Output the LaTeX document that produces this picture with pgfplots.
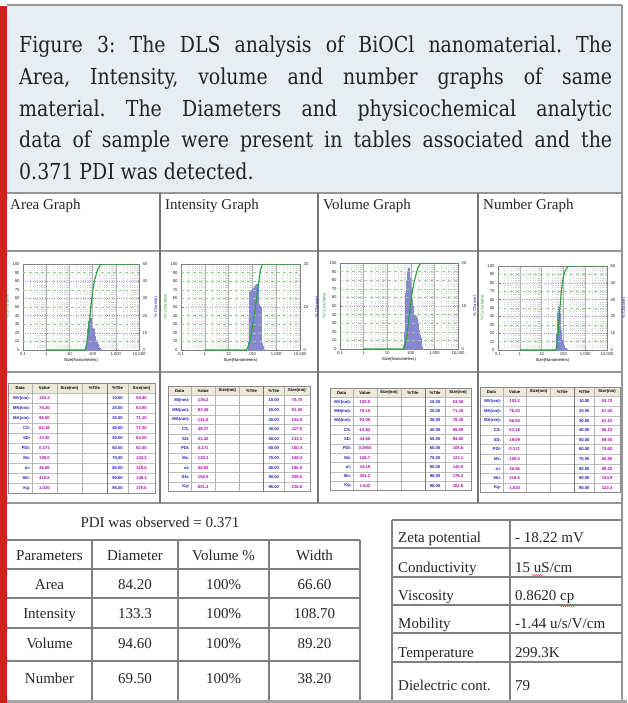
\documentclass[border=0pt]{standalone}
\usepackage{fontspec}
\setmainfont{Liberation Serif}
\setsansfont{Liberation Sans}
\newfontfamily\capfont[FakeStretch=0.86]{DejaVu Serif}
\usepackage{pgfplots}
\pgfplotsset{compat=1.18}
\usetikzlibrary{decorations.pathmorphing}

\definecolor{capbg}{RGB}{232,237,242}
\definecolor{captext}{RGB}{35,35,35}
\definecolor{redbar}{RGB}{210,32,28}
\definecolor{frame}{RGB}{150,150,150}
\definecolor{cumgreen}{RGB}{40,160,60}
\definecolor{gridgreen}{RGB}{150,210,150}
\definecolor{gridblue}{RGB}{150,150,230}
\definecolor{hist}{RGB}{165,165,228}
\definecolor{histline}{RGB}{135,135,210}
\definecolor{tblue}{RGB}{30,30,190}
\definecolor{tmag}{RGB}{185,0,185}
\definecolor{hdr}{RGB}{236,233,216}

\newcommand\tf{\sffamily\fontsize{4.2}{4.6}\selectfont}
\newcommand\tbf{\fontsize{15}{18}\selectfont}

\pgfplotsset{
 dlsbase/.style={scale only axis, xmin=0.1, xmax=10000, ymin=0, anchor=south west,
   /pgf/number format/assume math mode=true,
   tick label style={font=\tf, text=black!85}, major tick length=1.5pt, minor tick length=0pt,
   tick style={black!60, line width=0.3pt}, axis line style={black!50, line width=0.4pt}},
 dlshist/.style={dlsbase, xtick={0.1,1,10,100,1000,10000}, xticklabels={0.1,1,10,100,{1,000},{10,000}},
   minor xtick={0.2,0.3,0.4,0.5,0.6,0.7,0.8,0.9,2,3,4,5,6,7,8,9,20,30,40,50,60,70,80,90,200,300,400,500,600,700,800,900,2000,3000,4000,5000,6000,7000,8000,9000},
   xmajorgrids, xminorgrids, major x grid style={black!30, line width=0.3pt},
   minor x grid style={black!18, dotted, line width=0.3pt},
   ymajorgrids, major y grid style={gridblue, dotted, line width=0.5pt},
   ytick pos=right, yticklabel pos=right, xtick pos=bottom, ylabel near ticks,
   ylabel style={font=\tf, text=tblue}, xlabel={Size(Nanometers)},
   xlabel style={font=\tf, yshift=4pt}, xticklabel style={yshift=1pt}},
 dlscum/.style={dlsbase, ymax=100, axis x line=none, axis y line*=left, ytick={0,10,...,100},
   ylabel={\% Cumulative}, ylabel style={font=\tf, text=cumgreen, yshift=-3pt},
   extra y tick labels={}, extra y tick style={grid=major, major grid style={gridgreen, dashed, line width=0.45pt}, major tick length=0pt}},
}

\newcommand\dlstable[5]{%
\begin{scope}[x=1pt,y=-1pt,shift={(#1,#2)}, every node/.style={inner sep=0pt, font=\tf\bfseries}]
 \fill[hdr] (0,0) rectangle (#3,#4);
 \foreach \r in {1,...,10} \draw[black!25, line width=0.3pt] (0,{\r*#4}) -- (#3,{\r*#4});
 \foreach \f in {0.163,0.333,0.503,0.816} \draw[black!30, line width=0.3pt] ({\f*#3},0) -- ({\f*#3},{11*#4});
 \draw[black!55, line width=0.8pt] ({0.673*#3},0) -- ({0.673*#3},{11*#4});
 \draw[black!45, line width=0.6pt] (0,0) rectangle (#3,{11*#4});
 \node at ({0.082*#3},{0.5*#4}) {Data};
 \node at ({0.248*#3},{0.5*#4}) {Value};
 \node at ({0.418*#3},{0.5*#4}) {Size(nm)};
 \node at ({0.588*#3},{0.5*#4}) {\%Tile};
 \node at ({0.745*#3},{0.5*#4}) {\%Tile};
 \node at ({0.908*#3},{0.5*#4}) {Size(nm)};
 \foreach \l/\v/\p/\s [count=\i] in {#5} {
   \node[anchor=east, text=tblue] at ({0.163*#3-1.5},{(\i+0.5)*#4}) {\l};
   \node[text=tmag] at ({0.248*#3},{(\i+0.5)*#4}) {\v};
   \node[text=tblue] at ({0.745*#3},{(\i+0.5)*#4}) {\p};
   \node[text=tmag] at ({0.908*#3},{(\i+0.5)*#4}) {\s};
 }
\end{scope}}

\begin{document}
\frenchspacing
\begin{tikzpicture}
\path[use as bounding box] (0,0) rectangle (627pt,-703pt);
\clip (0,0) rectangle (627pt,-703pt);
\fill[white] (0,0) rectangle (627pt,-703pt);
\begin{scope}[x=1pt,y=-1pt]
 % caption box
 \fill[capbg] (7,5) rectangle (622,193);
 \draw[frame, line width=1.5pt] (7,5) -- (622,5);
 \fill[redbar] (0,6) rectangle (7,703);
 \begin{scope}[every node/.style={anchor=base west, inner sep=0pt, text=captext, font=\capfont\fontsize{22}{26}\selectfont}]
  \node at (19,53) {\makebox[593pt][s]{Figure 3: The DLS analysis of BiOCl nanomaterial. The}};
  \node at (19,85) {\makebox[593pt][s]{Area, Intensity, volume and number graphs of same}};
  \node at (19,117) {\makebox[593pt][s]{material. The Diameters and physicochemical analytic}};
  \node at (19,148) {\makebox[593pt][s]{data of sample were present in tables associated and the}};
  \node at (19,180) {0.371 PDI was detected.};
 \end{scope}
 % grid of panels
 \draw[frame, line width=2.5pt] (7,193) -- (622,193);
 \draw[frame, line width=1.5pt] (7,251) -- (622,251);
 \draw[frame, line width=1.5pt] (7,372) -- (622,372);
 \draw[frame, line width=2pt] (7,503) -- (622,503);
 \foreach \xx in {160,318,478} \draw[black!55, line width=1.3pt] (\xx,193) -- (\xx,503);
 \draw[frame, line width=1.5pt] (622,5) -- (622,703);
 \begin{scope}[every node/.style={anchor=base west, inner sep=0pt, font=\tbf, text=black!85}]
  \node at (10,210) {Area Graph};
  \node at (165,210) {Intensity Graph};
  \node at (323,210) {Volume Graph};
  \node at (483,210) {Number Graph};
 \end{scope}
 % small data tables
 \dlstable{8}{383}{147}{10}{MV(nm):/103.2/10.00/58.40, MN(nm):/76.20/20.00/64.90, MA(nm):/96.50/30.00/71.10, CS:/62.18/40.00/77.30, SD:/33.30/50.00/84.20, PDI:/0.371/60.00/92.40, Mz:/109.0/70.00/103.2, σi:/46.86/80.00/119.6, Ski:/418.5/90.00/149.3, Kg:/1.020/95.00/176.6}
 \dlstable{168}{386}{142}{9.6}{MI(nm):/136.2/10.00/78.70, MN(nm):/93.40/20.00/91.30, MA(nm):/121.5/30.00/104.8, CS:/49.37/40.00/117.8, SD:/33.30/50.00/133.3, PDI:/0.371/60.00/150.4, Mz:/130.2/70.00/168.4, σi:/58.83/80.00/186.8, Ski:/168.9/90.00/209.5, Kg:/801.4/95.00/226.8}
 \dlstable{330}{388}{141}{9.3}{MV(nm):/100.5/10.00/63.30, MN(nm):/76.10/20.00/71.20, MA(nm):/93.00/30.00/78.40, CS:/63.94/40.00/85.90, SD:/44.60/50.00/94.60, PDI:/0.2950/60.00/105.6, Mz:/106.7/70.00/121.1, σi:/44.19/80.00/144.9, Ski:/451.2/90.00/179.3, Kg:/1.042/95.00/202.6}
 \dlstable{480}{387}{140}{9.6}{MV(nm):/103.2/10.00/53.70, MN(nm):/76.20/20.00/57.40, MA(nm):/96.50/30.00/61.10, CS:/62.18/40.00/65.10, SD:/19.09/50.00/69.50, PDI:/0.371/60.00/74.60, Mz:/109.0/70.00/80.80, σi:/46.86/80.00/89.30, Ski:/418.5/90.00/104.9, Kg:/1.020/95.00/122.4}
 % bottom tables
 \node[anchor=base, inner sep=0pt, font=\tbf, text=black!85] at (160,527) {PDI was observed = 0.371};
 \foreach \yy in {540,569,598,628,661} \draw[black!50, line width=1.5pt] (7,\yy) -- (360,\yy);
 \foreach \xx in {92,178,269,360} \draw[black!50, line width=1.5pt] (\xx,540) -- (\xx,703);
 \begin{scope}[every node/.style={anchor=base, inner sep=0pt, font=\tbf, text=black!85}]
  \node at (49.5,560) {Parameters}; \node at (135,560) {Diameter}; \node at (223.5,560) {Volume \%}; \node at (314.5,560) {Width};
  \node at (49.5,589) {Area}; \node at (135,589) {84.20}; \node at (223.5,589) {100\%}; \node at (314.5,589) {66.60};
  \node at (49.5,618) {Intensity}; \node at (135,618) {133.3}; \node at (223.5,618) {100\%}; \node at (314.5,618) {108.70};
  \node at (49.5,648) {Volume}; \node at (135,648) {94.60}; \node at (223.5,648) {100\%}; \node at (314.5,648) {89.20};
  \node at (49.5,683) {Number}; \node at (135,683) {69.50}; \node at (223.5,683) {100\%}; \node at (314.5,683) {38.20};
 \end{scope}
 \foreach \yy in {520,548,577,605,633,662} \draw[black!50, line width=1.5pt] (392,\yy) -- (622,\yy);
 \foreach \xx in {392,510} \draw[black!50, line width=1.5pt] (\xx,520) -- (\xx,703);
 \begin{scope}[every node/.style={anchor=base west, inner sep=0pt, font=\tbf, text=black!85}]
  \node at (398,542) {Zeta potential}; \node at (515,542) {- 18.22 mV};
  \node at (398,572) {Conductivity}; \node at (515,572) {15 uS/cm};
  \node at (398,600) {Viscosity}; \node at (515,600) {0.8620 cp};
  \node at (398,628) {Mobility}; \node at (515,628) {-1.44 u/s/V/cm};
  \node at (398,657) {Temperature}; \node at (515,657) {299.3K};
  \node at (398,690) {Dielectric cont.}; \node at (515,690) {79};
 \end{scope}
 \draw[red!80, line width=0.4pt, decorate, decoration={snake, amplitude=0.6pt, segment length=2pt}] (532,575) -- (543,575);
 \draw[red!80, line width=0.4pt, decorate, decoration={snake, amplitude=0.6pt, segment length=2pt}] (560,606) -- (576,606);
 \fill[black!35] (7,700) rectangle (627,703);
\end{scope}

% ---------- Area graph ----------
\begin{semilogxaxis}[dlshist, at={(23pt,-350pt)}, width=116pt, height=86pt, ymax=50, ytick={0,10,...,50}, ylabel={\% Channel}]
\addplot[ybar interval, fill=hist, draw=histline, line width=0.15pt] coordinates {(50,2)(55,8)(60,12)(65,17)(70,18.8)(76,18.5)(82,14)(88,13)(95,12.6)(103,12)(111,11)(120,8)(130,6)(140,4.5)(152,3.5)(164,2.5)(177,1.8)(191,1.2)(206,0.7)(223,0.3)(240,0)};
\end{semilogxaxis}
\begin{semilogxaxis}[dlscum, at={(23pt,-350pt)}, width=116pt, height=86pt, extra y ticks={10,30,50,70,90}]
\addplot[cumgreen, line width=1.1pt] coordinates {(1,0)(45,0)(50,2)(58.4,10)(64.9,20)(71.1,30)(77.3,40)(84.2,50)(92.4,60)(103.2,70)(119.6,80)(149.3,90)(176.6,95)(220,99)(280,100)(10000,100)};
\end{semilogxaxis}

% ---------- Intensity graph ----------
\begin{semilogxaxis}[dlshist, at={(181pt,-350pt)}, width=119pt, height=86pt, ymax=20, ytick={0,10,20}, ylabel={\% Channel}]
\addplot[ybar interval, fill=hist, draw=histline, line width=0.15pt] coordinates {(65,2)(70,8)(76,13.5)(82,13.8)(88,14)(95,14.2)(103,14.3)(111,14.5)(120,14.8)(130,15)(140,15.3)(152,15.3)(164,15)(177,10.5)(191,10.3)(206,10)(223,9.5)(240,1.5)(260,0.8)(280,0.3)(300,0)};
\end{semilogxaxis}
\begin{semilogxaxis}[dlscum, at={(181pt,-350pt)}, width=119pt, height=86pt, extra y ticks={10,20,30,40,60,70,80,90}]
\addplot[cumgreen, line width=1.1pt] coordinates {(1,0)(55,0)(65,3)(78.7,10)(91.3,20)(104.8,30)(117.8,40)(133.3,50)(150.4,60)(168.4,70)(186.8,80)(209.5,90)(226.8,95)(260,99)(290,100)(10000,100)};
\end{semilogxaxis}

% ---------- Volume graph ----------
\begin{semilogxaxis}[dlshist, at={(340pt,-349pt)}, width=118pt, height=86pt, ymax=20, ytick={0,10,20}, ylabel={\% Channel}]
\addplot[ybar interval, fill=hist, draw=histline, line width=0.15pt] coordinates {(48,1)(52,4)(56,9)(60,13)(65,16)(70,18)(76,18.8)(82,18.5)(88,16.5)(95,14)(103,11.5)(111,10)(120,9)(130,8.2)(140,7.9)(152,7.6)(164,7.3)(177,7)(191,6)(206,4.5)(223,3.3)(240,2.5)(260,1.5)(280,0.5)(300,0)};
\end{semilogxaxis}
\begin{semilogxaxis}[dlscum, at={(340pt,-349pt)}, width=118pt, height=86pt, extra y ticks={10,20,30,40,60,70,80,90}]
\addplot[cumgreen, line width=1.1pt] coordinates {(1,0)(50,0)(56,3)(63.3,10)(71.2,20)(78.4,30)(85.9,40)(94.6,50)(105.6,60)(121.1,70)(144.9,80)(179.3,90)(202.6,95)(250,99)(300,100)(10000,100)};
\end{semilogxaxis}

% ---------- Number graph ----------
\begin{semilogxaxis}[dlshist, at={(498pt,-350pt)}, width=109pt, height=84pt, ymax=50, ytick={0,10,...,50}, ylabel={\% Channel}]
\addplot[ybar interval, fill=hist, draw=histline, line width=0.15pt] coordinates {(45,2)(48,10)(52,22)(56,26)(60,25.5)(65,22)(70,12)(76,8)(82,6)(88,4.5)(95,3)(103,2)(111,1.4)(120,1)(130,0.6)(140,0.3)(152,0)};
\end{semilogxaxis}
\begin{semilogxaxis}[dlscum, at={(498pt,-350pt)}, width=109pt, height=84pt, extra y ticks={10,30,50,70,90}]
\addplot[cumgreen, line width=1.1pt] coordinates {(1,0)(45,0)(49,3)(53.7,10)(57.4,20)(61.1,30)(65.1,40)(69.5,50)(74.6,60)(80.8,70)(89.3,80)(104.9,90)(122.4,95)(160,99)(210,100)(10000,100)};
\end{semilogxaxis}
\end{tikzpicture}
\end{document}
